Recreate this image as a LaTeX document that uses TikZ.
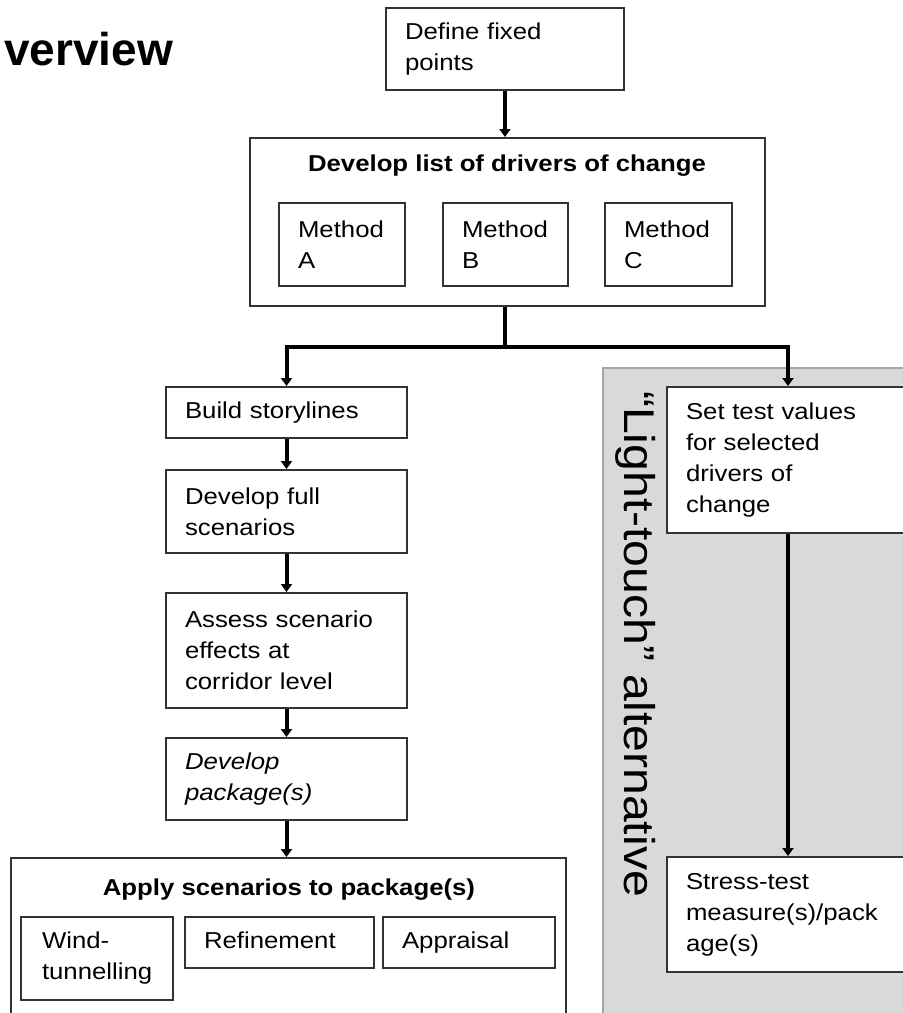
\documentclass[tikz,border=0pt]{standalone}
\usepackage{fontspec}
\setmainfont{Liberation Sans}[FakeStretch=1.12]
\newfontfamily\plainsans{Liberation Sans}
\usetikzlibrary{arrows.meta}
\definecolor{boxline}{HTML}{333333}
\definecolor{panelfill}{HTML}{D9D9D9}
\definecolor{panelline}{HTML}{A6A6A6}
\tikzset{
  box/.style={draw=boxline, line width=2pt, fill=white, inner xsep=19pt, inner ysep=2pt,
    align=left, font=\fontsize{23}{31}\selectfont, anchor=center},
  bx/.style n args={3}{box, minimum width=#1pt, minimum height=#2pt, text width=#3pt},
  boldlabel/.style={font=\fontsize{23}{31}\selectfont\bfseries, inner sep=0pt},
  conn/.style={line width=4pt, draw=black},
  arr/.style={conn, -{Triangle[length=8pt,width=11pt]}},
}
\begin{document}
\begin{tikzpicture}[x=1pt,y=-1pt]
\clip (0,0) rectangle (903,1013);
\fill[white] (0,0) rectangle (903,1013);

% title
\node[anchor=base west, inner sep=0pt] (title) at (4,65)
  {\plainsans\bfseries\fontsize{46}{46}\selectfont verview};

% light-touch panel
\draw[fill=panelfill, draw=panelline, line width=1.5pt] (603,368) rectangle (912,1025);
\node[rotate=-90, inner sep=0pt, font=\fontsize{43}{43}\selectfont] (lt) at (636,644)
  {“Light-touch” alternative};

% top
\node[bx={238}{82}{200}] (fixed) at (505,49) {\strut Define fixed\\points\strut};
\node[bx={515}{168}{477}] (drivers) at (507.5,222) {};
\node[boldlabel] (drvtitle) at (507,166) {Develop list of drivers of change};
\node[bx={126}{83}{88}] (ma) at (342,244.5) {Method\\A};
\node[bx={125}{83}{87}] (mb) at (505.5,244.5) {Method\\B};
\node[bx={127}{83}{89}] (mc) at (668.5,244.5) {Method\\C};

% left column
\node[bx={241}{51}{203}] (story) at (286.5,412.5) {\strut Build storylines};
\node[bx={241}{83}{203}] (full) at (286.5,511.5) {Develop full\\scenarios};
\node[bx={241}{115}{203}] (assess) at (286.5,650.5) {Assess scenario\\effects at\\corridor level};
\node[bx={241}{82}{203}] (pkg) at (286.5,779) {\itshape Develop\\\itshape package(s)};

% apply box
\node[bx={555}{170}{517}] (apply) at (288.5,943) {};
\node[boldlabel] (applytitle) at (289,890) {Apply scenarios to package(s)};
\node[bx={152}{83}{114}, inner xsep=21pt, text width=110pt] (wind) at (97,958.5) {Wind-\\tunnelling};
\node[bx={189}{51}{151}] (refine) at (279.5,942.5) {\strut Refinement};
\node[bx={172}{51}{134}] (apprais) at (469,942.5) {\strut Appraisal};

% right column
\node[bx={240}{146}{202}] (settest) at (787,460) {Set test values\\for selected\\drivers of\\change};
\node[bx={240}{115}{202}] (stress) at (787,914.5) {Stress-test\\measure(s)/pack\\age(s)};

% connectors
\coordinate (jc) at (505,347);
\coordinate (jl) at (286.5,347);
\coordinate (jr) at (788,347);
\draw[arr] (fixed.south) -- (fixed.south |- drivers.north);
\draw[conn] (drivers.south -| jc) -- (jc);
\draw[conn, line cap=rect] (jl) -- (jr);
\draw[arr] (jl) -- (story.north);
\draw[arr] (jr) -- (jr |- settest.north);
\draw[arr] (story.south) -- (full.north);
\draw[arr] (full.south) -- (assess.north);
\draw[arr] (assess.south) -- (pkg.north);
\draw[arr] (pkg.south) -- (pkg.south |- apply.north);
\draw[arr] (jr |- settest.south) -- (jr |- stress.north);
\end{tikzpicture}
\end{document}
